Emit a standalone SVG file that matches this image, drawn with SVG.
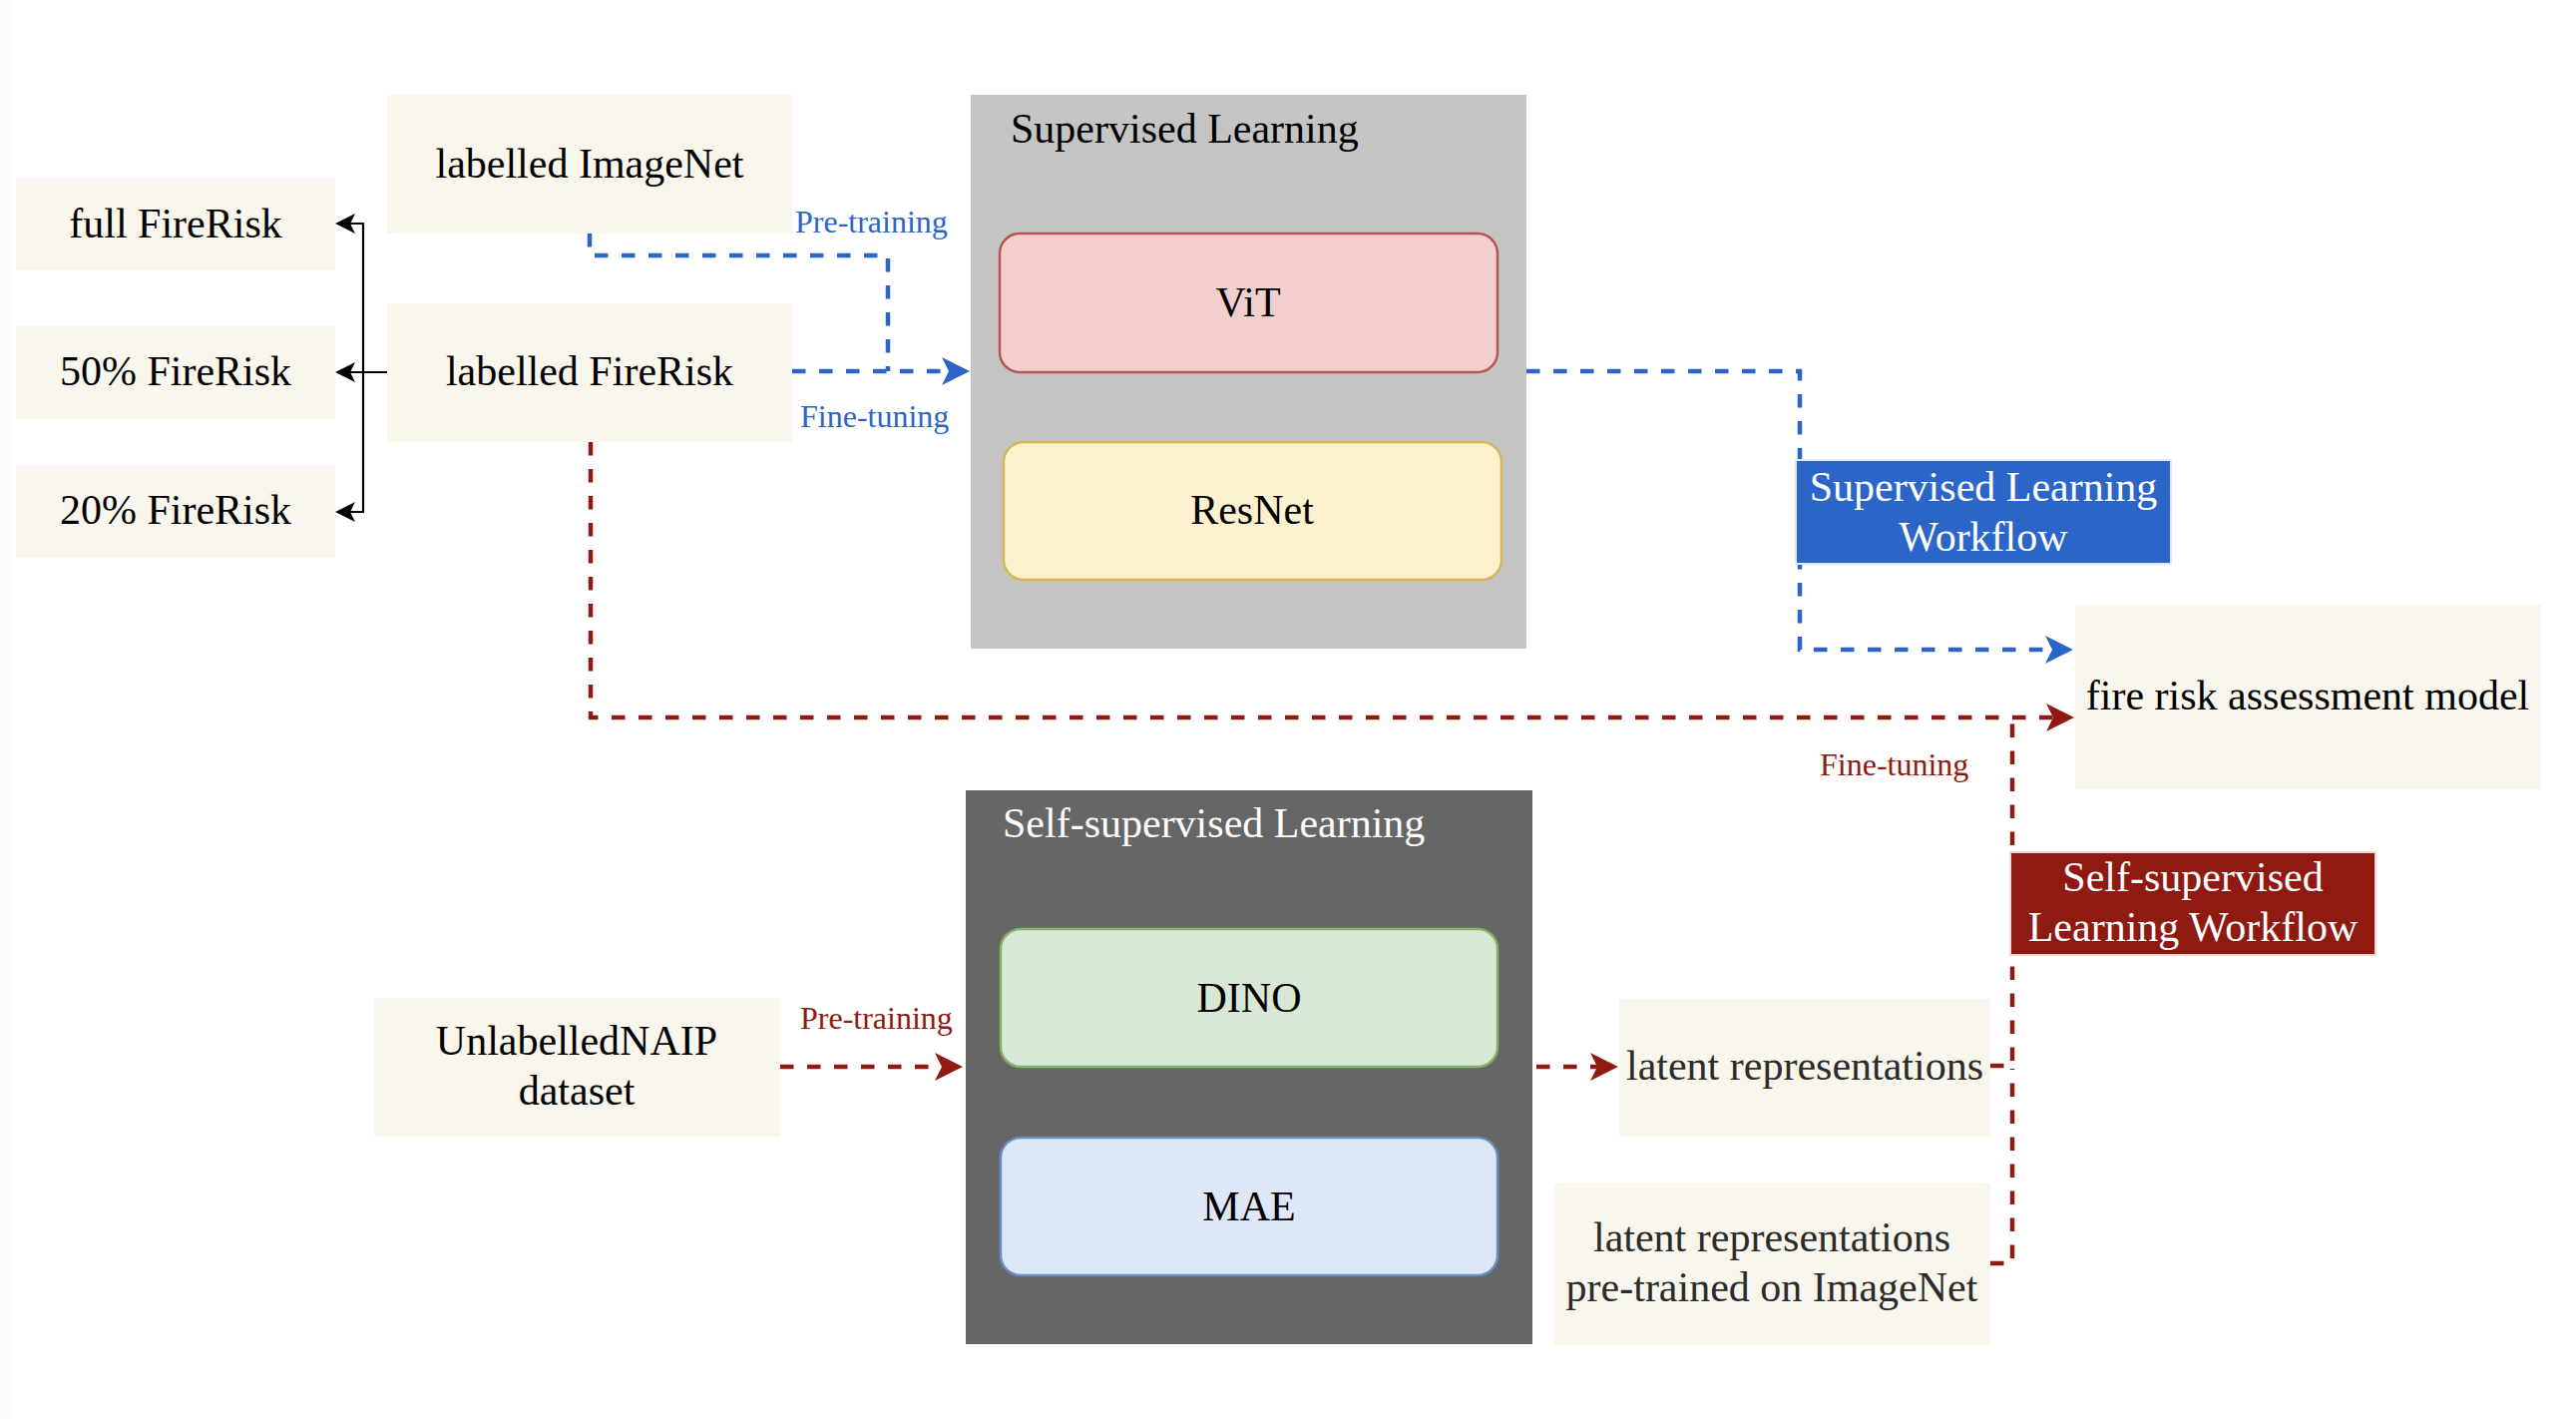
<svg xmlns="http://www.w3.org/2000/svg" width="2582" height="1422" viewBox="0 0 2582 1422">
<style>
text{font-family:"Liberation Serif","Times New Roman",serif;}
.t{font-size:42px;fill:#000;text-anchor:middle;}
.tg{font-size:42px;fill:#2b2b2b;text-anchor:middle;}
.tw{font-size:42px;fill:#fff;text-anchor:middle;}
.title{font-size:42px;}
.lb{font-size:32px;fill:#2c65c8;}
.lr{font-size:32px;fill:#8e1a11;}
.node{fill:#f9f7ed;}
.blue{fill:none;stroke:#2c65c8;stroke-width:4.5;stroke-dasharray:13.5 13.5;}
.red{fill:none;stroke:#8e1a11;stroke-width:4.5;stroke-dasharray:13.5 13.5;}
.blk{fill:none;stroke:#000;stroke-width:2.2;}
</style>
<defs>
<marker id="ab" viewBox="0 0 28 28" markerWidth="28" markerHeight="28" markerUnits="userSpaceOnUse" refX="8" refY="14" orient="auto"><path d="M0,0 L28,14 L0,28 L7,14 Z" fill="#2c65c8"/></marker>
<marker id="ar" viewBox="0 0 28 28" markerWidth="28" markerHeight="28" markerUnits="userSpaceOnUse" refX="8" refY="14" orient="auto"><path d="M0,0 L28,14 L0,28 L7,14 Z" fill="#8e1a11"/></marker>
<marker id="ak" viewBox="0 0 20 20" markerWidth="20" markerHeight="20" markerUnits="userSpaceOnUse" refX="6" refY="10" orient="auto"><path d="M0,0 L20,10 L0,20 L5,10 Z" fill="#000"/></marker>
</defs>
<rect x="0" y="0" width="2582" height="1422" fill="#fff"/>
<rect x="0" y="0" width="11" height="1422" fill="#fbfbfb"/>

<g id="sup-container">
<rect x="973" y="95" width="557" height="555" fill="#c4c4c4"/>
<text class="title" x="1013" y="143" fill="#000">Supervised Learning</text>
</g>
<g id="selfsup-container">
<rect x="968" y="792" width="568" height="555" fill="#666666"/>
<text class="title" x="1005" y="839" fill="#fff">Self-supervised Learning</text>
</g>

<g id="connectors">
<path class="blk" d="M388,373 L350,373" marker-end="url(#ak)"/>
<path class="blk" d="M364,373 L364,224 L350,224" marker-end="url(#ak)"/>
<path class="blk" d="M364,373 L364,513 L350,513" marker-end="url(#ak)"/>
<path class="blue" d="M591,234 L591,256 L890,256 L890,372"/>
<path class="blue" d="M794,372 L952,372" marker-end="url(#ab)"/>
<path class="blue" d="M1530,372 L1804,372 L1804,651 L2058,651" marker-end="url(#ab)"/>
<path class="red" d="M592,443 L592,719 L2059,719" marker-end="url(#ar)"/>
<path class="red" d="M782,1069 L945,1069" marker-end="url(#ar)"/>
<path class="red" d="M1540,1069 L1602,1069" marker-end="url(#ar)"/>
<path class="red" d="M1995,1068 L2017,1068 L2017,722"/>
<path class="red" d="M1995,1266 L2017,1266 L2017,1071"/>
<text class="lb" x="797" y="233">Pre-training</text>
<text class="lb" x="802" y="428">Fine-tuning</text>
<text class="lr" x="802" y="1031">Pre-training</text>
<text class="lr" x="1824" y="777">Fine-tuning</text>
</g>

<g id="full-firerisk"><rect class="node" x="16" y="179" width="320" height="92"/><text class="t" x="176" y="238">full FireRisk</text></g>
<g id="firerisk-50"><rect class="node" x="16" y="327" width="320" height="93"/><text class="t" x="176" y="386">50% FireRisk</text></g>
<g id="firerisk-20"><rect class="node" x="16" y="467" width="320" height="92"/><text class="t" x="176" y="525">20% FireRisk</text></g>
<g id="labelled-imagenet"><rect class="node" x="388" y="95" width="406" height="139"/><text class="t" x="591" y="178">labelled ImageNet</text></g>
<g id="labelled-firerisk"><rect class="node" x="388" y="304" width="406" height="139"/><text class="t" x="591" y="386">labelled FireRisk</text></g>

<g id="vit"><rect x="1002" y="234" width="499" height="139" rx="20" fill="#f2cfce" stroke="#b85450" stroke-width="2.5"/><text class="t" x="1251" y="317">ViT</text></g>
<g id="resnet"><rect x="1006" y="443" width="499" height="138" rx="20" fill="#fcf1cf" stroke="#d6b656" stroke-width="2.5"/><text class="t" x="1255" y="525">ResNet</text></g>
<g id="dino"><rect x="1003" y="931" width="498" height="138" rx="20" fill="#d9e7d6" stroke="#82b366" stroke-width="2.5"/><text class="t" x="1252" y="1014">DINO</text></g>
<g id="mae"><rect x="1003" y="1140" width="498" height="138" rx="20" fill="#dde7f8" stroke="#6c8ebf" stroke-width="2.5"/><text class="t" x="1252" y="1223">MAE</text></g>

<g id="sup-workflow"><rect x="1800" y="461" width="376" height="104" fill="#2c65c8" stroke="#dae8fc" stroke-width="2"/><text class="tw" x="1988" y="502">Supervised Learning</text><text class="tw" x="1988" y="552">Workflow</text></g>
<g id="fire-model"><rect class="node" x="2080" y="606" width="467" height="185"/><text class="t" x="2313" y="711">fire risk assessment model</text></g>
<g id="selfsup-workflow"><rect x="2015" y="854" width="366" height="103" fill="#8e1a11" stroke="#f4d3d2" stroke-width="2"/><text class="tw" x="2198" y="893">Self-supervised</text><text class="tw" x="2198" y="943">Learning Workflow</text></g>

<g id="unlabelled-naip"><rect class="node" x="375" y="1000" width="407" height="139"/><text class="t" x="578" y="1057">UnlabelledNAIP</text><text class="t" x="578" y="1107">dataset</text></g>
<g id="latent"><rect class="node" x="1623" y="1001" width="372" height="138"/><text class="tg" x="1809" y="1082">latent representations</text></g>
<g id="latent-imagenet"><rect class="node" x="1558" y="1186" width="437" height="162"/><text class="tg" x="1776" y="1254">latent representations</text><text class="tg" x="1776" y="1304">pre-trained on ImageNet</text></g>
</svg>
